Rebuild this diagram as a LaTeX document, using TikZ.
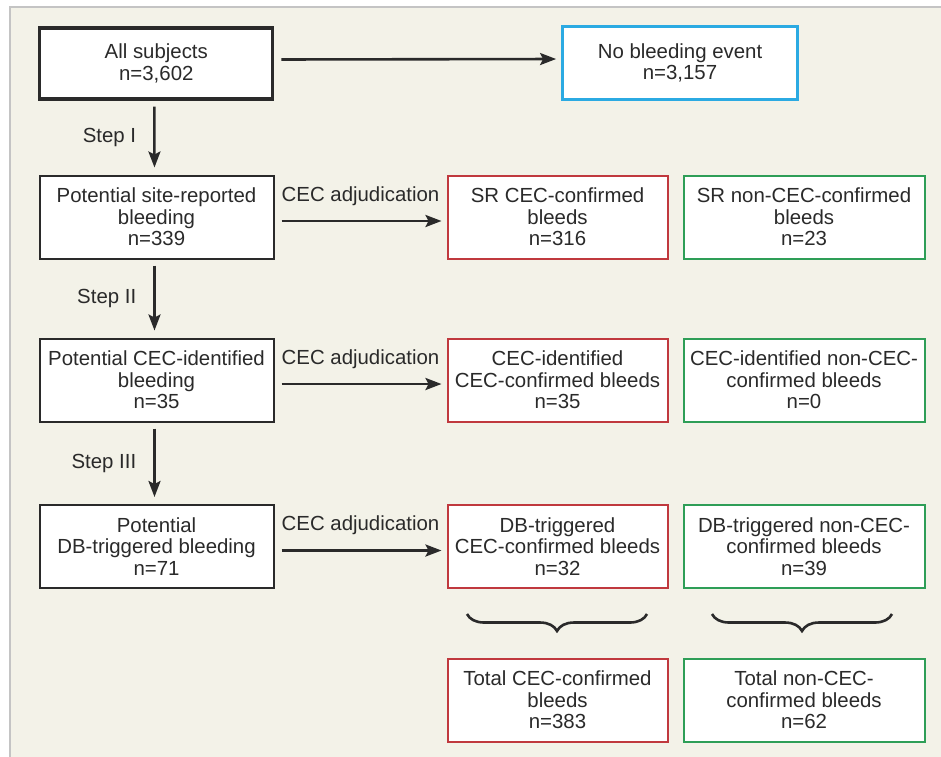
\documentclass[tikz,border=0pt]{standalone}
\usepackage{fontspec}
\setmainfont{Liberation Sans}
\usetikzlibrary{arrows.meta, decorations.pathreplacing}

\definecolor{bgcol}{HTML}{F3F2E8}
\definecolor{framecol}{HTML}{C4C4C4}
\definecolor{txtcol}{HTML}{2A2A2A}
\definecolor{redcol}{HTML}{C0393E}
\definecolor{greencol}{HTML}{2E9E57}
\definecolor{bluecol}{HTML}{2BAAE2}

\tikzset{
  box/.style={draw=txtcol, fill=white, line width=2pt, align=center, inner sep=0pt, text=txtcol, font=\fontsize{20.4}{21.5}\selectfont},
  redbox/.style={box, draw=redcol},
  greenbox/.style={box, draw=greencol},
  flow/.style={-{Stealth[length=16pt,width=12pt,inset=3pt]}, line width=2.6pt, draw=txtcol},
  lbl/.style={text=txtcol, font=\fontsize{20.4}{21.5}\selectfont, inner sep=0pt},
  bracket/.style={decorate, decoration={brace, amplitude=17pt}, line width=2.6pt, draw=txtcol}
}

\begin{document}
\begin{tikzpicture}[x=1pt, y=1pt]
\useasboundingbox (0,0) rectangle (941,-756);
\fill[white] (0,0) rectangle (941,-756);
\draw[framecol, fill=bgcol, line width=2pt] (10,-6.5) rectangle (970,-790);

\node[box, line width=3.2pt, minimum width=233pt, minimum height=71pt] (all) at (156.3,-63.5) {All subjects\\n=3,602};
\node[box, draw=bluecol, line width=2.8pt, minimum width=235pt, minimum height=73pt] (none) at (680,-63) {No bleeding event\\n=3,157};

\node[box, minimum width=234pt, minimum height=83pt] (site) at (156.5,-217) {Potential site-reported\\bleeding\\n=339};
\node[redbox, minimum width=220pt, minimum height=83pt] (srconf) at (557.5,-217) {SR CEC-confirmed\\bleeds\\n=316};
\node[greenbox, minimum width=241pt, minimum height=83pt] (srnon) at (804,-217) {SR non-CEC-confirmed\\bleeds\\n=23};

\node[box, minimum width=234pt, minimum height=83pt] (cecid) at (156.5,-380) {Potential CEC-identified\\bleeding\\n=35};
\node[redbox, minimum width=220pt, minimum height=83pt] (idconf) at (557.5,-380) {CEC-identified\\CEC-confirmed bleeds\\n=35};
\node[greenbox, minimum width=241pt, minimum height=83pt] (idnon) at (804,-380) {CEC-identified non-CEC-\\confirmed bleeds\\n=0};

\node[box, minimum width=234pt, minimum height=83pt] (dbtrig) at (156.5,-546.5) {Potential\\DB-triggered bleeding\\n=71};
\node[redbox, minimum width=220pt, minimum height=83pt] (dbconf) at (557.5,-546.5) {DB-triggered\\CEC-confirmed bleeds\\n=32};
\node[greenbox, minimum width=241pt, minimum height=83pt] (dbnon) at (804,-546.5) {DB-triggered non-CEC-\\confirmed bleeds\\n=39};

\node[redbox, minimum width=220pt, minimum height=83pt] (totconf) at (557.5,-700) {Total CEC-confirmed\\bleeds\\n=383};
\node[greenbox, minimum width=241pt, minimum height=83pt] (totnon) at (804,-700) {Total non-CEC-\\confirmed bleeds\\n=62};

\draw[flow, shorten <=7pt, shorten >=5pt] ([yshift=4pt]all.east) -- ([yshift=4pt]none.west);

\draw[flow, shorten <=6pt, shorten >=7pt] ([xshift=-2pt]all.south) -- ([xshift=-2pt]site.north) node[lbl, midway, left=17pt] {Step I};
\draw[flow, shorten <=6pt, shorten >=7pt] ([xshift=-2pt]site.south) -- ([xshift=-2pt]cecid.north) node[lbl, midway, left=17pt] {Step II};
\draw[flow, shorten <=6pt, shorten >=7pt] ([xshift=-2pt]cecid.south) -- ([xshift=-2pt]dbtrig.north) node[lbl, midway, left=17pt] {Step III};

\draw[flow, shorten <=7pt, shorten >=5pt] ([yshift=-4pt]site.east) -- ([yshift=-4pt]srconf.west) node[lbl, midway, above=14pt] {CEC adjudication};
\draw[flow, shorten <=7pt, shorten >=5pt] ([yshift=-4pt]cecid.east) -- ([yshift=-4pt]idconf.west) node[lbl, midway, above=14pt] {CEC adjudication};
\draw[flow, shorten <=7pt, shorten >=5pt] ([yshift=-4pt]dbtrig.east) -- ([yshift=-4pt]dbconf.west) node[lbl, midway, above=14pt] {CEC adjudication};

\draw[bracket] (647,-614) -- (467,-614);
\draw[bracket] (892,-614) -- (712,-614);
\end{tikzpicture}
\end{document}
